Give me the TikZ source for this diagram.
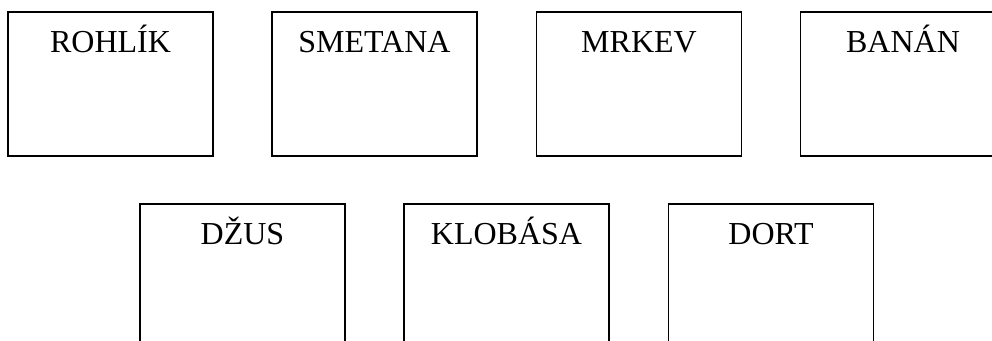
\documentclass[tikz,border=0pt]{standalone}
\usepackage{fontspec}
\setmainfont{Liberation Serif}
\usetikzlibrary{calc,positioning}

\begin{document}
\begin{tikzpicture}[x=0.75pt,y=-0.75pt,
  card/.style={draw,thick,line width=0.9pt,minimum width=153.75pt,minimum height=108pt,inner sep=0pt},
  word/.style={anchor=base,inner sep=0pt,font=\fontsize{24}{28}\selectfont}]
\clip (0,0) rectangle (992,340);
\foreach \n/\x/\y/\t in {rohlik/110.5/84/ROHLÍK,smetana/374.5/84/SMETANA,mrkev/639/84/MRKEV,banan/903/84/BANÁN,
  dzus/242.5/276/DŽUS,klobasa/506.5/276/KLOBÁSA,dort/771/276/DORT}
{
  \node[card] (\n) at (\x,\y) {};
  \node[word] (t\n) at ($(\n.north)+(0,41)$) {\t};
}
\end{tikzpicture}
\end{document}
